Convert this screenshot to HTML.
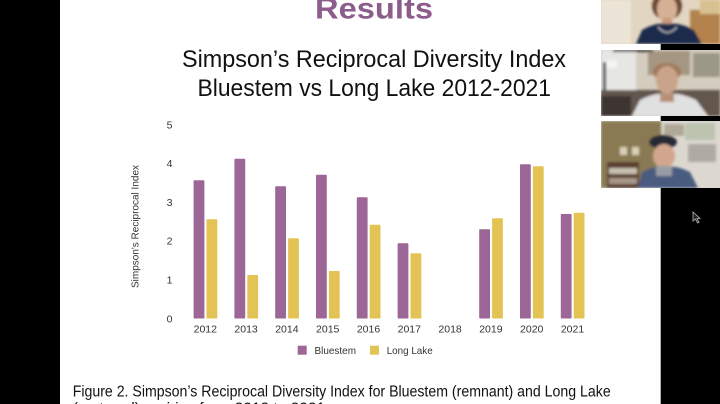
<!DOCTYPE html>
<html>
<head>
<meta charset="utf-8">
<style>
html,body{margin:0;padding:0;background:#000;}
svg{display:block;}
</style>
</head>
<body>
<svg width="720" height="404" viewBox="0 0 720 404" xmlns="http://www.w3.org/2000/svg">
  <defs>
    <filter id="bl" x="-10%" y="-10%" width="120%" height="120%"><feGaussianBlur stdDeviation="1.2"/></filter>
    <clipPath id="p1"><rect x="601" y="0" width="119" height="44"/></clipPath>
    <clipPath id="p2"><rect x="601" y="50" width="119" height="66"/></clipPath>
    <clipPath id="p3"><rect x="601" y="121" width="119" height="67"/></clipPath>
  </defs>
  <!-- backgrounds -->
  <rect x="0" y="0" width="720" height="404" fill="#000"/>
  <rect x="60" y="0" width="600.7" height="404" fill="#fff"/>

  <!-- Titles -->
  <text x="315" y="18.3" font-family="Liberation Sans, sans-serif" font-weight="bold" font-size="30" fill="#8c5c8c" textLength="118" lengthAdjust="spacingAndGlyphs">Results</text>
  <text x="182" y="67" font-family="Liberation Sans, sans-serif" font-size="24" fill="#111" textLength="384" lengthAdjust="spacingAndGlyphs">Simpson’s Reciprocal Diversity Index</text>
  <text x="197.5" y="96" font-family="Liberation Sans, sans-serif" font-size="24" fill="#111" textLength="353.5" lengthAdjust="spacingAndGlyphs">Bluestem vs Long Lake 2012-2021</text>

  <!-- Y axis labels -->
  <g font-family="Liberation Sans, sans-serif" font-size="10.5" fill="#333" text-anchor="middle">
    <text x="169.5" y="322.3">0</text>
    <text x="169.5" y="283.5">1</text>
    <text x="169.5" y="244.7">2</text>
    <text x="169.5" y="205.9">3</text>
    <text x="169.5" y="167.1">4</text>
    <text x="169.5" y="128.3">5</text>
  </g>
  <text transform="translate(138.5,226.5) rotate(-90)" x="-61.5" y="0" font-family="Liberation Sans, sans-serif" font-size="10.5" fill="#333" textLength="123" lengthAdjust="spacingAndGlyphs">Simpson's Reciprocal Index</text>

  <!-- Bars -->
  <g fill="#9c6797">
    <rect x="193.6" y="180.3" width="10.8" height="138.2" rx="0.8"/>
    <rect x="234.4" y="158.7" width="10.8" height="159.8" rx="0.8"/>
    <rect x="275.2" y="186.3" width="10.8" height="132.2" rx="0.8"/>
    <rect x="316.0" y="174.7" width="10.8" height="143.8" rx="0.8"/>
    <rect x="356.8" y="197.3" width="10.8" height="121.2" rx="0.8"/>
    <rect x="397.6" y="243.3" width="10.8" height="75.2" rx="0.8"/>
    <rect x="479.2" y="229.3" width="10.8" height="89.2" rx="0.8"/>
    <rect x="520.0" y="164.3" width="10.8" height="154.2" rx="0.8"/>
    <rect x="560.8" y="214.0" width="10.8" height="104.5" rx="0.8"/>
  </g>
  <g fill="#e3c354">
    <rect x="206.5" y="219.3" width="10.8" height="99.2" rx="0.8"/>
    <rect x="247.3" y="275.0" width="10.8" height="43.5" rx="0.8"/>
    <rect x="288.1" y="238.3" width="10.8" height="80.2" rx="0.8"/>
    <rect x="328.9" y="271.0" width="10.8" height="47.5" rx="0.8"/>
    <rect x="369.7" y="224.7" width="10.8" height="93.8" rx="0.8"/>
    <rect x="410.5" y="253.3" width="10.8" height="65.2" rx="0.8"/>
    <rect x="492.1" y="218.3" width="10.8" height="100.2" rx="0.8"/>
    <rect x="532.9" y="166.3" width="10.8" height="152.2" rx="0.8"/>
    <rect x="573.7" y="212.7" width="10.8" height="105.8" rx="0.8"/>
  </g>

  <!-- X labels -->
  <g font-family="Liberation Sans, sans-serif" font-size="10.5" fill="#333" text-anchor="middle">
    <text x="205.3" y="332.7">2012</text>
    <text x="246.1" y="332.7">2013</text>
    <text x="286.9" y="332.7">2014</text>
    <text x="327.7" y="332.7">2015</text>
    <text x="368.5" y="332.7">2016</text>
    <text x="409.3" y="332.7">2017</text>
    <text x="450.1" y="332.7">2018</text>
    <text x="490.9" y="332.7">2019</text>
    <text x="531.7" y="332.7">2020</text>
    <text x="572.5" y="332.7">2021</text>
  </g>

  <!-- Legend -->
  <rect x="297.7" y="345.7" width="9" height="9" fill="#9c6797"/>
  <text x="314.5" y="354" font-family="Liberation Sans, sans-serif" font-size="10.5" fill="#333" textLength="41.5" lengthAdjust="spacingAndGlyphs">Bluestem</text>
  <rect x="370" y="345.7" width="9" height="9" fill="#e3c354"/>
  <text x="386.7" y="354" font-family="Liberation Sans, sans-serif" font-size="10.5" fill="#333" textLength="46" lengthAdjust="spacingAndGlyphs">Long Lake</text>

  <!-- Caption -->
  <text x="72.7" y="396.3" font-family="Liberation Sans, sans-serif" font-size="15.5" fill="#111" textLength="538" lengthAdjust="spacingAndGlyphs">Figure 2. Simpson’s Reciprocal Diversity Index for Bluestem (remnant) and Long Lake</text>
  <text x="72.7" y="413.5" font-family="Liberation Sans, sans-serif" font-size="15.5" fill="#111">(restored) prairies from 2012 to 2021</text>

  <!-- Video panel 1 -->
  <g clip-path="url(#p1)">
    <rect x="601" y="0" width="119" height="44" fill="#e2d6c2"/>
    <g filter="url(#bl)">
      <rect x="601" y="0" width="30" height="44" fill="#ece4d6"/>
      <rect x="690" y="10" width="30" height="34" fill="#b4824e"/>
      <rect x="700" y="0" width="20" height="14" fill="#d8c090"/>
      <ellipse cx="667" cy="6" rx="15" ry="14" fill="#6a4a36"/>
      <ellipse cx="667" cy="9" rx="10" ry="13" fill="#d8b096"/>
      <rect x="662" y="18" width="10" height="10" fill="#c89a80"/>
      <path d="M636 44 L642 30 Q655 22 667 24 Q680 22 694 30 L702 44 Z" fill="#1f2c4c"/>
      <path d="M658 27 Q667 38 677 27" stroke="#c8c8d0" stroke-width="1.2" fill="none"/>
    </g>
  </g>

  <!-- Video panel 2 -->
  <g clip-path="url(#p2)">
    <rect x="601" y="50" width="119" height="66" fill="#d4ccbe"/>
    <g filter="url(#bl)">
      <rect x="601" y="50" width="35" height="66" fill="#e6e6e4"/>
      <rect x="603" y="60" width="14" height="8" fill="#f4f4f4"/>
      <rect x="603" y="62" width="3" height="40" fill="#3a3a3a"/>
      <rect x="648" y="51" width="42" height="24" fill="#a49682"/>
      <rect x="693" y="53" width="27" height="24" fill="#9c9888"/>
      <rect x="613" y="50" width="40" height="2" fill="#2a2a2a"/>
      <rect x="601" y="90" width="119" height="26" fill="#64564e"/>
      <rect x="601" y="96" width="30" height="20" fill="#3e3632"/>
      <ellipse cx="667" cy="72" rx="14" ry="9" fill="#a07a58"/>
      <ellipse cx="667" cy="80" rx="11" ry="14" fill="#caa48a"/>
      <path d="M632 116 L640 100 Q655 92 667 94 Q680 92 696 100 L708 116 Z" fill="#e0e0e0"/>
      <rect x="660" y="94" width="14" height="8" fill="#b89078"/>
    </g>
  </g>

  <!-- Video panel 3 -->
  <g clip-path="url(#p3)">
    <rect x="601" y="121" width="119" height="67" fill="#dcd8d0"/>
    <g filter="url(#bl)">
      <rect x="601" y="121" width="60" height="67" fill="#8a7a52"/>
      <rect x="620" y="147" width="7" height="8" fill="#d8d0b8"/>
      <rect x="632" y="147" width="7" height="8" fill="#d8d0b8"/>
      <rect x="607" y="162" width="32" height="26" fill="#5a4030"/>
      <rect x="609" y="168" width="28" height="6" fill="#c8c0b0"/>
      <rect x="609" y="178" width="28" height="6" fill="#a89888"/>
      <rect x="664" y="124" width="20" height="12" fill="#b0a898"/>
      <rect x="685" y="123" width="30" height="17" fill="#bcc4b0"/>
      <rect x="688" y="144" width="28" height="18" fill="#b0aaa4"/>
      <ellipse cx="663" cy="142" rx="14" ry="7" fill="#262a36"/>
      <ellipse cx="664" cy="156" rx="11" ry="12" fill="#d2a68e"/>
      <path d="M638 188 L642 172 Q655 165 664 167 Q676 165 690 172 L698 188 Z" fill="#4a5c80"/>
      <rect x="656" y="166" width="16" height="10" fill="#9a9ca4"/>
    </g>
  </g>

  <!-- mouse cursor -->
  <path d="M693 212 L693 221 L695.5 219 L697.5 223 L699 222.3 L697 218.5 L700 218.5 Z" fill="#222" stroke="#bbb" stroke-width="0.8"/>
</svg>
</body>
</html>
